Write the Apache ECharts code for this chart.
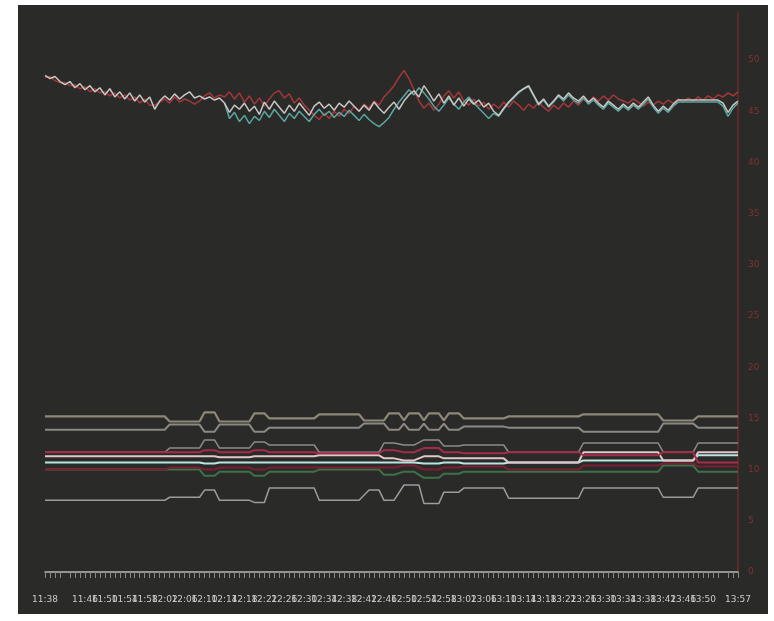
<!DOCTYPE html>
<html>
<head>
<meta charset="utf-8">
<script src="https://cdn.jsdelivr.net/npm/echarts@6/dist/echarts.min.js"></script>
<style>
  html, body { margin: 0; padding: 0; background: #ffffff; }
  #chart { width: 774px; height: 621px; }
</style>
</head>
<body>
<div id="chart"></div>
<script>
// Minute timestamps along the x axis
const timeLabels = (
  "11:38 11:39 11:40 11:41 11:42 11:43 11:44 11:45 11:46 11:47 11:48 11:49 11:50 11:51 11:52 11:53 11:54 11:55 11:56 11:57 11:58 11:59 " +
  "12:00 12:01 12:02 12:03 12:04 12:05 12:06 12:07 12:08 12:09 12:10 12:11 12:12 12:13 12:14 12:15 12:16 12:17 12:18 12:19 " +
  "12:20 12:21 12:22 12:23 12:24 12:25 12:26 12:27 12:28 12:29 12:30 12:31 12:32 12:33 12:34 12:35 12:36 12:37 12:38 12:39 " +
  "12:40 12:41 12:42 12:43 12:44 12:45 12:46 12:47 12:48 12:49 12:50 12:51 12:52 12:53 12:54 12:55 12:56 12:57 12:58 12:59 " +
  "13:00 13:01 13:02 13:03 13:04 13:05 13:06 13:07 13:08 13:09 13:10 13:11 13:12 13:13 13:14 13:15 13:16 13:17 13:18 13:19 " +
  "13:20 13:21 13:22 13:23 13:24 13:25 13:26 13:27 13:28 13:29 13:30 13:31 13:32 13:33 13:34 13:35 13:36 13:37 13:38 13:39 " +
  "13:40 13:41 13:42 13:43 13:44 13:45 13:46 13:47 13:48 13:49 13:50 13:51 13:52 13:53 13:54 13:55 13:56 13:57"
).split(" ");

// Right axis ticks
const yMin = 0, yMax = 54.6, yStep = 5;

// Upper traces (fast-moving readings)
const traceWhite = [
  48.5,48.2,48.4,47.9,47.6,47.9,47.3,47.7,47.1,47.5,46.9,47.3,46.6,47.2,46.4,46.9,46.2,46.8,46.0,46.6,
  45.9,46.4,45.2,46.0,46.5,46.1,46.7,46.2,46.6,46.9,46.3,46.5,46.2,46.4,46.1,46.3,45.8,44.9,45.6,45.2,
  45.8,45.0,45.5,44.7,45.9,45.2,46.0,45.4,44.8,45.6,45.0,45.8,45.2,44.6,45.5,45.9,45.3,45.7,45.1,45.8,
  45.4,46.0,45.5,45.0,45.6,45.1,45.9,45.3,44.8,45.4,45.9,45.2,46.0,46.6,47.0,46.4,47.5,46.8,46.0,46.7,
  45.8,46.5,45.6,46.3,45.5,46.2,45.7,46.1,45.4,45.8,45.0,44.6,45.3,45.9,46.4,46.9,47.2,47.5,46.6,45.7,
  46.2,45.5,46.0,46.6,46.2,46.8,46.3,46.0,46.5,45.9,46.3,45.8,45.4,46.0,45.6,45.2,45.7,45.3,45.8,45.4,
  45.9,46.4,45.6,45.0,45.5,45.1,45.7,46.1,46.1,46.1,46.1,46.1,46.1,46.1,46.1,46.1,45.8,44.9,45.6,46.0
];
const traceRed = [
  48.3,48.4,48.0,47.8,47.8,47.5,47.6,47.2,47.4,46.9,47.2,46.8,46.9,46.5,46.8,46.3,46.6,46.1,46.4,45.8,
  46.2,45.6,45.6,45.9,46.2,45.8,46.4,45.9,46.2,46.0,45.7,46.0,46.5,46.8,46.3,46.6,46.4,46.9,46.2,46.8,
  45.9,46.5,45.7,46.3,45.5,46.2,46.8,47.0,46.3,46.7,45.8,46.3,45.6,45.1,44.6,44.2,44.8,44.3,45.0,44.5,
  45.2,44.8,45.5,45.0,45.7,45.3,46.0,45.6,46.4,46.9,47.5,48.3,49.0,48.2,47.1,46.0,45.3,45.8,45.1,45.7,
  46.5,47.0,46.3,46.9,46.0,45.6,46.2,45.5,45.9,45.2,45.7,45.3,45.9,45.4,46.0,45.6,45.1,45.7,45.3,45.9,
  45.4,45.0,45.6,45.2,45.8,45.4,46.0,45.6,46.2,45.8,46.4,46.0,46.5,46.1,46.6,46.2,46.0,45.8,46.2,45.9,
  45.5,45.9,45.6,46.0,45.7,46.1,45.8,46.2,45.9,46.3,46.0,46.4,46.1,46.5,46.2,46.6,46.4,46.8,46.5,46.9
];
const traceTeal = [
  null,null,null,null,null,null,null,null,null,null,null,null,null,null,null,null,null,null,null,null,
  null,null,null,null,null,null,null,null,null,null,null,null,null,null,null,null,45.8,44.3,44.9,44.0,
  44.6,43.8,44.5,44.1,45.0,44.4,45.2,44.6,44.0,44.8,44.3,45.0,44.5,44.0,44.7,45.2,44.6,45.0,44.4,44.9,
  44.5,45.1,44.6,44.1,44.7,44.2,43.8,43.5,43.9,44.4,45.2,45.9,46.5,47.1,46.6,47.3,46.8,46.2,45.5,45.0,
  45.6,46.3,45.7,45.2,45.9,46.4,45.8,45.3,44.8,44.3,44.8,44.5,45.2,45.8,46.3,46.8,47.2,47.4,46.5,45.6,
  46.1,45.4,45.9,46.5,46.0,46.6,46.1,45.8,46.3,45.7,46.1,45.6,45.2,45.8,45.4,45.0,45.5,45.1,45.6,45.2,
  45.7,46.2,45.4,44.8,45.3,44.9,45.5,45.9,45.9,45.9,45.9,45.9,45.9,45.9,45.9,45.9,45.5,44.5,45.3,45.8
];

// Lower level lines: [category index, value] at each change of level
const levelTopUpper = [
  [0,15.2],[24,15.2],[25,14.7],[31,14.7],[32,15.6],[34,15.6],[35,14.7],[41,14.7],[42,15.5],[44,15.5],
  [45,15.0],[54,15.0],[55,15.4],[63,15.4],[64,14.8],[68,14.8],[69,15.5],[71,15.5],[72,14.8],[73,15.5],
  [75,15.5],[76,14.8],[77,15.5],[79,15.5],[80,14.8],[81,15.5],[83,15.5],[84,15.0],[92,15.0],[93,15.2],
  [107,15.2],[108,15.4],[123,15.4],[124,14.8],[130,14.8],[131,15.2],[139,15.2]
];
const levelTopLower = [
  [0,13.9],[24,13.9],[25,14.4],[31,14.4],[32,13.7],[34,13.7],[35,14.4],[41,14.4],[42,13.7],[44,13.7],
  [45,14.1],[63,14.1],[64,14.5],[68,14.5],[69,13.9],[71,13.9],[72,14.5],[73,13.9],[75,13.9],[76,14.5],
  [77,13.9],[79,13.9],[80,14.5],[81,13.9],[83,13.9],[84,14.2],[92,14.2],[93,14.1],[107,14.1],[108,13.7],
  [123,13.7],[124,14.5],[130,14.5],[131,14.1],[139,14.1]
];
const levelBottom = [
  [0,7.0],[24,7.0],[25,7.3],[31,7.3],[32,8.0],[34,8.0],[35,7.0],[41,7.0],[42,6.8],[44,6.8],
  [45,8.2],[54,8.2],[55,7.0],[63,7.0],[65,8.0],[67,8.0],[68,7.0],[70,7.0],[72,8.5],[75,8.5],
  [76,6.7],[79,6.7],[80,7.8],[83,7.8],[84,8.2],[92,8.2],[93,7.2],[107,7.2],[108,8.2],[123,8.2],
  [124,7.3],[130,7.3],[131,8.2],[139,8.2]
];

// Middle band: spans of categories and the level of each line within each span
const bandSpans = [[0,24],[25,31],[32,34],[35,41],[42,44],[45,54],[55,67],[68,70],[72,74],[76,79],[80,83],[84,92],[93,107],[108,123],[124,130],[131,139]];
const bandHigh  = [11.7,12.1,12.9,12.1,12.7,12.4,11.7,12.6,12.4,12.9,12.3,12.4,11.7,12.6,11.7,12.6];
const bandRed   = [11.7,11.7,11.9,11.7,11.9,11.7,11.6,11.9,11.7,12.1,11.7,11.6,11.7,11.4,11.7,10.7];
const bandPink  = [11.3,11.3,11.3,11.2,11.3,11.3,11.4,11.1,10.9,11.3,11.1,11.1,10.7,11.7,10.9,11.7];
const bandCyan  = [10.7,10.7,10.6,10.7,10.7,10.7,10.7,10.7,10.7,10.6,10.7,10.6,10.7,10.9,10.9,11.4];
const bandDark  = [10.0,10.2,10.0,10.2,10.0,10.2,10.2,10.2,10.4,10.0,10.2,10.3,10.0,10.4,10.6,10.3];
const bandLow   = [10.0,10.0,9.4,9.8,9.4,9.8,10.0,9.5,9.8,9.2,9.6,9.8,9.8,9.8,10.4,9.8];

function bandLine(levels) {
  const pts = [];
  bandSpans.forEach((s, k) => { pts.push([s[0], levels[k]]); pts.push([s[1], levels[k]]); });
  return pts;
}

function line(name, data, color, width) {
  return {
    name, type: 'line', data, symbol: 'none', silent: true,
    lineStyle: { color, width }, z: 3
  };
}

const chart = echarts.init(document.getElementById('chart'), null, { renderer: 'canvas' });
chart.setOption({
  animation: false,
  backgroundColor: '#ffffff',
  graphic: [{
    type: 'rect', z: -10, silent: true,
    shape: { x: 18, y: 5, width: 750, height: 609 },
    style: { fill: '#2a2a28' }
  }],
  grid: { left: 45, right: 36, top: 13, bottom: 49 },
  xAxis: {
    type: 'category',
    data: timeLabels,
    boundaryGap: false,
    axisLine: { lineStyle: { color: '#b8b8b4', width: 1.5 } },
    axisTick: { show: true, interval: 0, length: 6, lineStyle: { color: '#8a8a86' } },
    axisLabel: {
      interval: 3, color: '#cacac6', fontSize: 9, margin: 23,
      showMinLabel: true, showMaxLabel: true, fontFamily: 'DejaVu Sans'
    },
    splitLine: { show: false }
  },
  yAxis: {
    type: 'value',
    position: 'right',
    min: yMin, max: yMax, interval: yStep,
    axisLine: { show: true, lineStyle: { color: '#6e2a2a', width: 1.5 } },
    axisTick: { show: false },
    axisLabel: { color: '#803232', fontSize: 9, margin: 10, showMaxLabel: false, fontFamily: 'DejaVu Sans' },
    splitLine: { show: false }
  },
  series: [
    line('red', traceRed, '#a4373a', 1.5),
    line('teal', traceTeal, '#5aa7a2', 1.5),
    line('white', traceWhite, '#c9c6c4', 1.5),
    line('topUpper', levelTopUpper, '#8d8877', 2.2),
    line('topLower', levelTopLower, '#8c8983', 2),
    line('bandHigh', bandLine(bandHigh), '#8c8c8a', 1.5),
    line('bandLow', bandLine(bandLow), '#3d7248', 2),
    line('bandDark', bandLine(bandDark), '#7c1f33', 2),
    line('bandCyan', bandLine(bandCyan), '#b9e6e2', 2),
    line('bandPink', bandLine(bandPink), '#e2c6cc', 2),
    line('bandRed', bandLine(bandRed), '#a52c48', 2),
    line('bottom', levelBottom, '#9c9c9e', 1.5)
  ]
});
</script>
</body>
</html>
